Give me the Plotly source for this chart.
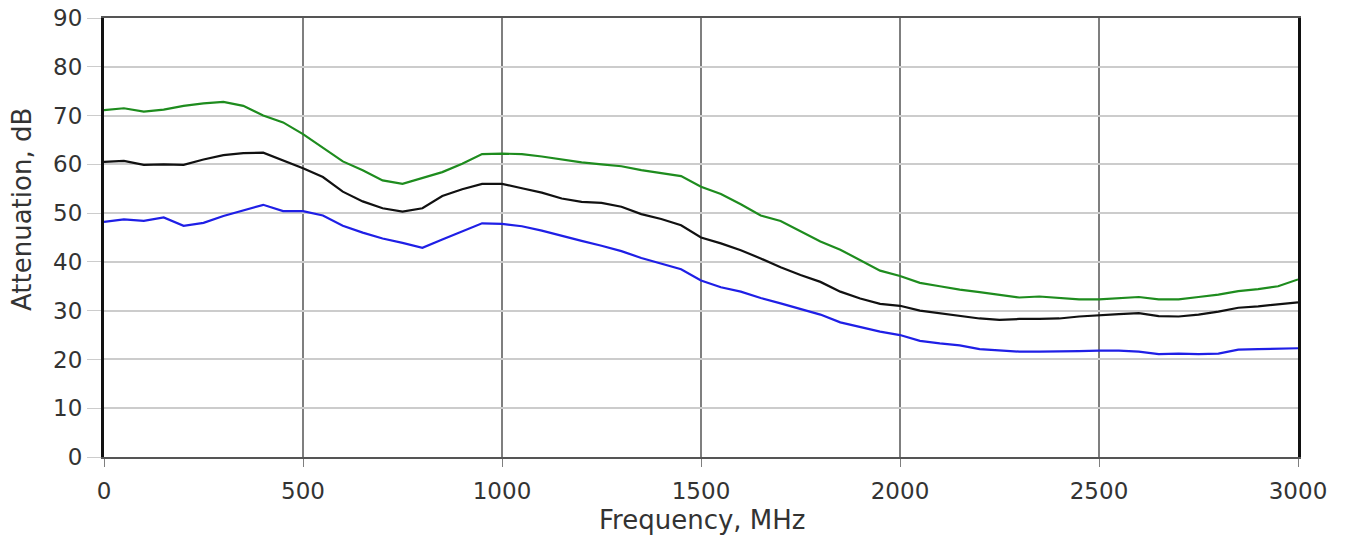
import plotly.graph_objects as go

freq = list(range(0, 3001, 50))

green = [71.1, 71.5, 70.8, 71.2, 72.0, 72.5, 72.8, 72.0, 70.0, 68.6,
         66.2, 63.4, 60.6, 58.8, 56.7, 56.0, 57.2, 58.4, 60.1, 62.1,
         62.2, 62.1, 61.6, 61.0, 60.4, 60.0, 59.6, 58.8, 58.2, 57.6,
         55.4, 53.9, 51.8, 49.5, 48.4, 46.3, 44.2, 42.5, 40.4, 38.2,
         37.1, 35.7, 35.0, 34.3, 33.8, 33.3, 32.7, 32.9, 32.6, 32.3,
         32.3, 32.6, 32.8, 32.3, 32.3, 32.8, 33.3, 34.0, 34.4, 35.0, 36.4]

black = [60.5, 60.7, 59.9, 60.0, 59.9, 61.0, 61.9, 62.3, 62.4, 60.8,
         59.2, 57.4, 54.4, 52.4, 51.0, 50.3, 51.0, 53.5, 54.9, 56.0,
         56.0, 55.1, 54.2, 53.0, 52.3, 52.1, 51.3, 49.8, 48.8, 47.5,
         45.0, 43.8, 42.4, 40.7, 38.9, 37.3, 35.9, 33.9, 32.5, 31.4,
         31.0, 30.0, 29.5, 29.0, 28.4, 28.1, 28.3, 28.3, 28.4, 28.8,
         29.1, 29.3, 29.5, 28.9, 28.8, 29.2, 29.8, 30.6, 30.9, 31.3, 31.7]

blue = [48.2, 48.7, 48.4, 49.1, 47.4, 48.0, 49.4, 50.6, 51.7, 50.4,
        50.4, 49.5, 47.4, 46.0, 44.8, 43.9, 42.9, 44.6, 46.3, 47.9,
        47.8, 47.3, 46.4, 45.3, 44.3, 43.3, 42.2, 40.8, 39.6, 38.5,
        36.2, 34.8, 33.9, 32.6, 31.5, 30.4, 29.2, 27.6, 26.6, 25.7,
        25.0, 23.8, 23.3, 22.9, 22.1, 21.8, 21.6, 21.6, 21.6, 21.7,
        21.8, 21.8, 21.6, 21.1, 21.2, 21.1, 21.2, 22.0, 22.1, 22.2, 22.3]

x_ticks = [0, 500, 1000, 1500, 2000, 2500, 3000]
y_ticks = [0, 10, 20, 30, 40, 50, 60, 70, 80, 90]
x_title = "Frequency, MHz"
y_title = "Attenuation, dB"

fig = go.Figure()
for vals, col in [(green, "#1e8c1e"), (black, "#111111"), (blue, "#1f1fe6")]:
    fig.add_trace(go.Scatter(x=freq, y=vals, mode="lines",
                             line=dict(color=col, width=2.2),
                             showlegend=False))

fam = "DejaVu Sans, Verdana, sans-serif"
tick_font = dict(family=fam, size=23, color="#333333")
title_font = dict(family=fam, size=26, color="#333333")

fig.update_layout(
    width=1345, height=536,
    margin=dict(l=104, r=47, t=18, b=79, autoexpand=False),
    paper_bgcolor="white", plot_bgcolor="white",
    font=tick_font,
    xaxis=dict(range=[0, 3000], tickvals=x_ticks, showgrid=True,
               gridcolor="#7f7f7f", gridwidth=1.5,
               showline=True, linecolor="#555555", linewidth=2, mirror=True,
               ticks="outside", ticklen=8, tickcolor="#7f7f7f",
               ticklabelstandoff=4, ticklabeloverflow="allow",
               zeroline=False, tickfont=tick_font),
    yaxis=dict(range=[0, 90], tickvals=y_ticks, showgrid=True,
               gridcolor="#cccccc", gridwidth=1.5,
               showline=True, linecolor="#111111", linewidth=3, mirror=True,
               ticks="outside", ticklen=14, tickcolor="#cccccc",
               ticklabeloverflow="allow",
               zeroline=False, tickfont=tick_font),
    annotations=[
        dict(text=x_title, xref="paper", yref="paper", x=0.501, y=0,
             xanchor="center", yanchor="middle", yshift=-63,
             showarrow=False, font=title_font),
        dict(text=y_title, xref="paper", yref="paper", x=0, y=0.5626,
             xanchor="center", yanchor="middle", xshift=-82, textangle=-90,
             showarrow=False, font=title_font),
    ],
)

fig.write_html("out.html", config={"displayModeBar": False},
               post_script="document.body.style.margin='0';document.body.style.overflow='hidden';")
